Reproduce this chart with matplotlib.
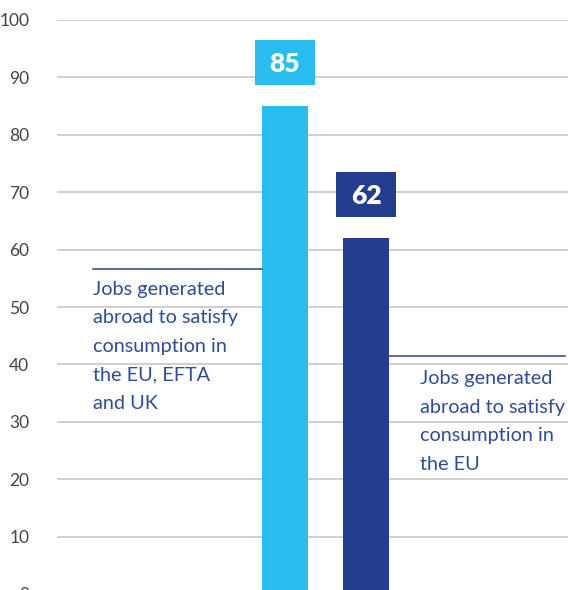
import matplotlib.pyplot as plt
from matplotlib.patches import Rectangle

# data
labels = ["Jobs generated\nabroad to satisfy\nconsumption in\nthe EU, EFTA\nand UK",
          "Jobs generated\nabroad to satisfy\nconsumption in\nthe EU"]
values = [85, 62]
colors = ["#29bcee", "#233e8f"]
yticks = list(range(0, 101, 10))

plt.rcParams['font.family'] = ['Lato', 'Open Sans', 'DejaVu Sans']

fig = plt.figure(figsize=(5.68, 5.90), dpi=100)
ax = fig.add_axes([57 / 568, -4 / 590, 511 / 568, 574 / 590])

x = [0, 1]
w = 0.568
ax.bar(x, values, width=w, color=colors, zorder=3)

ax.set_ylim(0, 100)
ax.set_xlim(-2.815, 3.494)
ax.set_yticks(yticks)
ax.yaxis.grid(True, color="#cccccc", linewidth=1.3, zorder=0)
ax.set_xticks([])
for s in ax.spines.values():
    s.set_visible(False)
ax.tick_params(axis="y", length=0, pad=20, labelsize=12.5, labelcolor="#444444")

# value boxes
bw, bh = 0.741, 8.0
for xi, v, c in zip(x, values, colors):
    cy = v + 7.6
    ax.add_patch(Rectangle((xi - bw / 2, cy - bh / 2), bw, bh, fc=c, ec="none", zorder=4))
    ax.text(xi, cy, str(v), ha="center", va="center_baseline", color="white",
            fontsize=19, fontweight="heavy", zorder=5)

# annotations
line_col = "#3a4f9a"
txt_col = "#2f4b9c"
ly = [56.6, 41.5]
ax.plot([-2.37, -w / 2], [ly[0], ly[0]], color=line_col, lw=1.2, zorder=4)
ax.plot([1 + w / 2, 3.457], [ly[1], ly[1]], color=line_col, lw=1.2, zorder=4)
ax.text(-2.37, ly[0] - 2.0, labels[0], ha="left", va="top", color=txt_col,
        fontsize=14.3, linespacing=1.83, zorder=4)
ax.text(1.667, ly[1] - 2.5, labels[1], ha="left", va="top", color=txt_col,
        fontsize=14.3, linespacing=1.83, zorder=4)

fig.savefig("out.png", dpi=100)
